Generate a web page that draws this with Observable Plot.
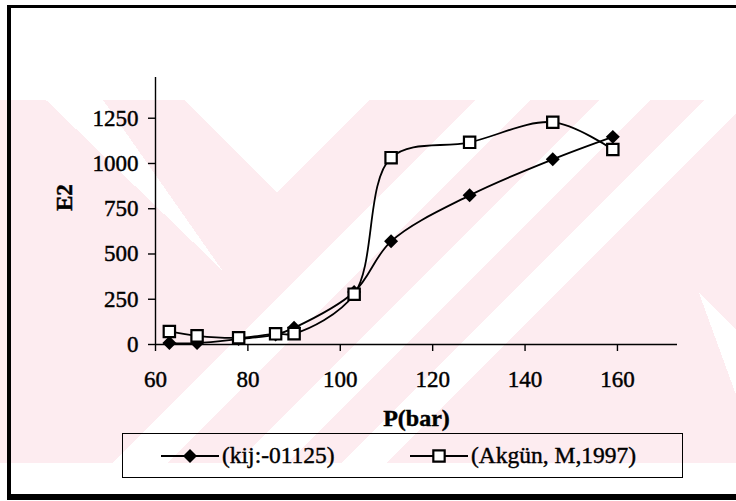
<!DOCTYPE html>
<html>
<head>
<meta charset="utf-8">
<script src="https://cdn.jsdelivr.net/npm/d3@7"></script>
<script src="https://cdn.jsdelivr.net/npm/@observablehq/plot@0.6"></script>
<style>
  html, body { margin: 0; padding: 0; background: #fff; }
  #wrap { position: relative; width: 736px; height: 501px; overflow: hidden; background: #fff; font-family: "Liberation Serif", "Times New Roman", serif; }
  #wm { position: absolute; left: 0; top: 100px; width: 736px; height: 363px;
    background:
      conic-gradient(from -45deg at 277px 92px, #fff 0deg 90deg, transparent 90deg 360deg),
      conic-gradient(from 314deg at 222px 170px, #fff 0deg 11deg, transparent 11deg 360deg),
      conic-gradient(from 135deg at 699px 193px, #fff 0deg 25deg, transparent 25deg 360deg),
      linear-gradient(135deg, transparent 0px 336px, #fff 336px 375px, transparent 375px 424px, #fff 424px 460px, transparent 460px 498px, #fff 498px 530px, transparent 530px),
      #fdecf0;
  }
  #frame { position: absolute; left: 7px; top: 5px; width: 740px; height: 495px; box-sizing: border-box;
    border-left: 4.5px solid #000; border-top: 3px solid #000; border-bottom: 6px solid #000; }
  #chart { position: absolute; left: 0; top: 0; }
  #chart text { stroke: #000; stroke-width: 0.45px; }
  #legend { position: absolute; left: 122px; top: 433px; width: 561px; height: 45px; box-sizing: border-box;
    border: 1.5px solid #000; }
  .item { position: absolute; top: 0; height: 100%; display: flex; align-items: center; font-size: 23.5px; color: #000; white-space: nowrap; -webkit-text-stroke: 0.4px #000; }
  .item svg { display: block; margin-right: 3px; }
</style>
</head>
<body>
<div id="wrap">
  <div id="wm"></div>
  <div id="frame"></div>
  <div id="chart"></div>
  <div id="legend"></div>
</div>
<script>
// ---- data ----
const pressure = [63, 69, 78, 86, 90, 103, 111, 128, 146, 159];
const kij      = [8, 8, 30, 55, 92, 290, 570, 824, 1023, 1147];
const akgun    = [72, 48, 37, 59, 60, 278, 1032, 1117, 1228, 1077];
const seriesNames = ["(kij:-01125)", "(Akgün, M,1997)"];
const xTicks = [60, 80, 100, 120, 140, 160];
const yTicks = [0, 250, 500, 750, 1000, 1250];
const xTitle = "P(bar)";
const yTitle = "E2";

const kijData = pressure.map((p, i) => ({p, e: kij[i]}));
const akgunData = pressure.map((p, i) => ({p, e: akgun[i]}));

const serif = "'Liberation Serif', 'Times New Roman', serif";

const chart = Plot.plot({
  width: 736,
  height: 501,
  marginLeft: 155,
  marginRight: 59,
  marginTop: 77,
  marginBottom: 157,
  x: {domain: [60, 173]},
  y: {domain: [0, 1475]},
  style: {fontFamily: serif, fontSize: "23px", background: "transparent", color: "#000", overflow: "visible"},
  marks: [
    Plot.ruleX([60], {stroke: "#000", strokeWidth: 1.4}),
    Plot.ruleY([0], {stroke: "#000", strokeWidth: 1.4}),
    Plot.axisY({ticks: yTicks, tickSize: 7, tickPadding: 10, label: null, tickFormat: d => String(d), strokeWidth: 1.4, strokeOpacity: 1, fontSize: 23, fontFamily: serif}),
    Plot.axisX({ticks: xTicks, tickSize: 7, tickPadding: 19, label: null, tickFormat: d => String(d), strokeWidth: 1.4, strokeOpacity: 1, fontSize: 23, fontFamily: serif}),
    Plot.line(kijData, {x: "p", y: "e", curve: "catmull-rom", stroke: "#000", strokeWidth: 1.8}),
    Plot.dot(kijData, {x: "p", y: "e", symbol: "diamond2", r: 6.3, fill: "#000", stroke: "none"}),
    Plot.line(akgunData, {x: "p", y: "e", curve: "catmull-rom", stroke: "#000", strokeWidth: 1.8}),
    Plot.dot(akgunData, {x: "p", y: "e", symbol: "square", r: 6.4, fill: "#fff", stroke: "#000", strokeWidth: 2.2}),
    Plot.text([yTitle], {frameAnchor: "left", dx: -91, rotate: -90, fontWeight: "bold", fontSize: 23, fontFamily: serif}),
    Plot.text([xTitle], {frameAnchor: "bottom", dy: 81, fontWeight: "bold", fontSize: 24, fontFamily: serif})
  ]
});
document.getElementById("chart").appendChild(chart);

// ---- legend ----
const legend = document.getElementById("legend");
const items = [
  {name: seriesNames[0], left: 38, sym: d3.symbolDiamond2, size: Math.PI * 6.3 * 6.3, fill: "#000", stroke: "none", sw: 0},
  {name: seriesNames[1], left: 287, sym: d3.symbolSquare, size: Math.PI * 6.4 * 6.4, fill: "#fff", stroke: "#000", sw: 2.2}
];
items.forEach(it => {
  const div = document.createElement("div");
  div.className = "item";
  div.style.left = it.left + "px";
  const w = 58, h = 20;
  const svg = d3.create("svg").attr("width", w).attr("height", h);
  svg.append("line").attr("x1", 0).attr("x2", w).attr("y1", h / 2).attr("y2", h / 2).attr("stroke", "#000").attr("stroke-width", 1.8);
  svg.append("path").attr("d", d3.symbol(it.sym, it.size)()).attr("transform", `translate(${w / 2},${h / 2})`)
    .attr("fill", it.fill).attr("stroke", it.stroke).attr("stroke-width", it.sw);
  div.appendChild(svg.node());
  const span = document.createElement("span");
  span.textContent = it.name;
  div.appendChild(span);
  legend.appendChild(div);
});
</script>
</body>
</html>
